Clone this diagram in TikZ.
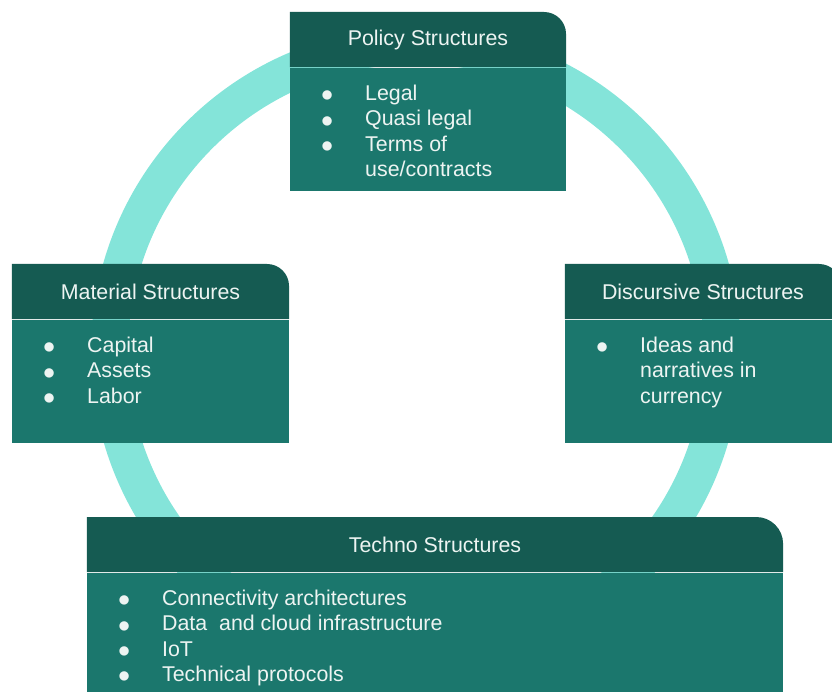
\documentclass[tikz,border=0pt]{standalone}
\usepackage{fontspec}
\setmainfont{Liberation Sans}
\usetikzlibrary{positioning}
\definecolor{headgreen}{HTML}{155B52}
\definecolor{bodygreen}{HTML}{1B776D}
\definecolor{ringcyan}{HTML}{84E4D9}
\definecolor{lighttext}{HTML}{EDF4F2}

\newcommand{\itm}{\makebox[1.1cm][l]{\fontsize{19pt}{18pt}\selectfont\raisebox{-0.95pt}{$\bullet$}}}
\newcommand{\cont}{\hspace*{1.1cm}}

\begin{document}
\begin{tikzpicture}[x=0.025cm, y=-0.025cm,
  hradius/.store in=\hrad, hradius=0.55cm,
  header/.style={rectangle, minimum height=1.375cm, inner sep=0pt, text=lighttext,
    font=\fontsize{15.2pt}{18pt}\selectfont,
    path picture={\fill[headgreen] (path picture bounding box.south west) -- (path picture bounding box.north west)
      -- ([xshift=-\hrad]path picture bounding box.north east) arc[start angle=90, end angle=0, radius=\hrad]
      -- (path picture bounding box.south east) -- cycle;}},
  panel/.style={rectangle, fill=bodygreen, inner sep=0pt},
  items/.style={anchor=north west, inner sep=0pt, align=left, text=lighttext,
    font=\fontsize{15.2pt}{18pt}\selectfont}]
\clip (0,0) rectangle (832,691);

% Ring
\draw[ringcyan, line width=0.925cm] (416,352) circle[radius=306.5];

% Boxes
\node[header, minimum width=6.9cm] (policy) at (428,39.5) {Policy Structures};
\node[panel, minimum width=6.9cm, minimum height=3.075cm, below=0pt of policy] (policylist) {};

\node[header, minimum width=6.925cm] (material) at (150.5,291.5) {Material Structures};
\node[panel, minimum width=6.925cm, minimum height=3.075cm, below=0pt of material] (materiallist) {};

\node[header, minimum width=6.9cm] (discursive) at (703,291.5) {Discursive Structures};
\node[panel, minimum width=6.9cm, minimum height=3.075cm, below=0pt of discursive] (discursivelist) {};

\node[header, hradius=0.67cm, minimum width=17.4cm] (techno) at (435,544.5) {Techno Structures};
\node[panel, minimum width=17.4cm, minimum height=3.5cm, below=0pt of techno] (technolist) {};

% Text
\node[items] (policyitems) at ([xshift=0.78cm, yshift=-0.4375cm]policylist.north west)
  {\itm Legal\\ \itm Quasi legal\\ \itm Terms of\\ \cont use/contracts};
\node[items] (materialitems) at ([xshift=0.78cm, yshift=-0.4375cm]materiallist.north west)
  {\itm Capital\\ \itm Assets\\ \itm Labor};
\node[items] (discursiveitems) at ([xshift=0.78cm, yshift=-0.4375cm]discursivelist.north west)
  {\itm Ideas and\\ \cont narratives in\\ \cont currency};
\node[items] (technoitems) at ([xshift=0.78cm, yshift=-0.4375cm]technolist.north west)
  {\itm Connectivity architectures\\ \itm Data\ \ and cloud infrastructure\\ \itm IoT\\ \itm Technical protocols};
\end{tikzpicture}
\end{document}
